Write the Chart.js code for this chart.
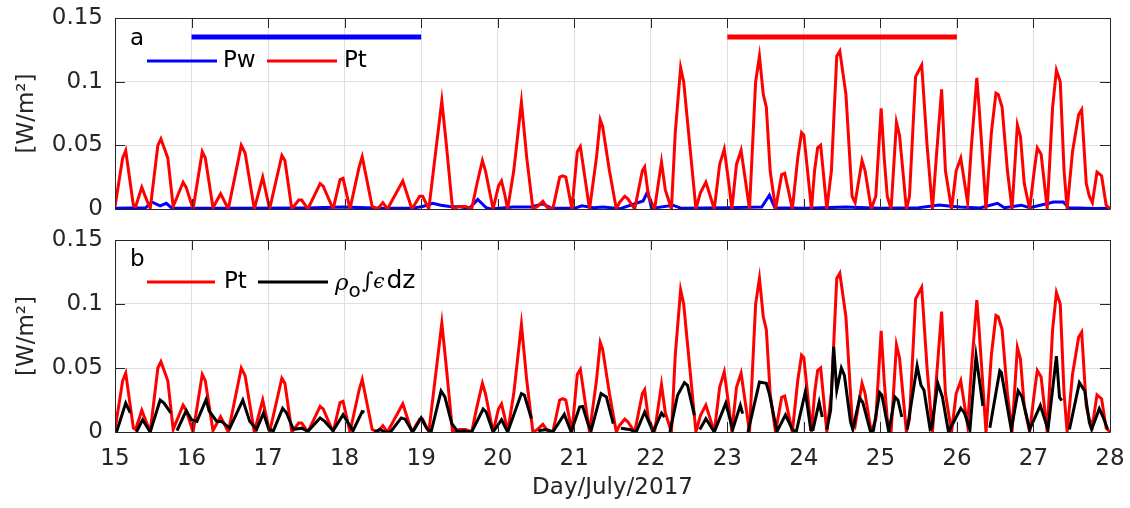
<!DOCTYPE html>
<html>
<head>
<meta charset="utf-8">
<script src="https://cdn.jsdelivr.net/npm/chart.js@4.4.0/dist/chart.umd.min.js"></script>
<style>
body { margin: 0; background: #fff; }
#wrap { position: relative; width: 1130px; height: 508px; }
canvas { position: absolute; left: 0; }
#panelA { top: 0; }
#panelB { top: 220px; }
</style>
</head>
<body>
<div id="wrap">
<canvas id="panelA" width="1130" height="220"></canvas>
<canvas id="panelB" width="1130" height="288"></canvas>
</div>
<script>
// Pt (red): day, W/m^2
const ptDay = [15.00,15.10,15.14,15.24,15.27,15.35,15.46,15.56,15.60,15.69,15.76,15.89,15.93,16.02,16.14,16.18,16.28,16.38,16.48,16.65,16.70,16.82,16.93,17.02,17.18,17.22,17.31,17.40,17.44,17.52,17.68,17.72,17.85,17.94,17.98,18.07,18.19,18.23,18.36,18.43,18.50,18.56,18.76,18.88,18.98,19.02,19.10,19.16,19.27,19.33,19.41,19.50,19.58,19.66,19.73,19.80,19.84,19.94,20.01,20.05,20.09,20.13,20.21,20.31,20.38,20.46,20.52,20.59,20.65,20.72,20.81,20.85,20.89,20.97,21.04,21.08,21.20,21.29,21.34,21.37,21.46,21.55,21.59,21.66,21.70,21.79,21.89,21.92,21.97,22.05,22.14,22.19,22.27,22.32,22.39,22.43,22.51,22.59,22.65,22.72,22.83,22.90,22.96,23.02,23.06,23.12,23.18,23.29,23.37,23.42,23.47,23.51,23.56,23.63,23.71,23.75,23.85,23.92,23.97,24.00,24.10,24.14,24.18,24.22,24.30,24.36,24.43,24.47,24.55,24.60,24.63,24.67,24.76,24.80,24.88,24.94,25.01,25.05,25.09,25.14,25.21,25.25,25.34,25.38,25.46,25.54,25.61,25.68,25.73,25.80,25.85,25.93,25.99,26.05,26.14,26.19,26.26,26.29,26.38,26.45,26.51,26.54,26.59,26.66,26.72,26.79,26.83,26.88,26.95,27.01,27.05,27.10,27.18,27.25,27.30,27.35,27.40,27.44,27.51,27.59,27.63,27.69,27.73,27.77,27.83,27.89,27.95,28.00];
const ptVal = [0.002,0.040,0.046,0.003,0.002,0.017,0.000,0.050,0.055,0.040,0.002,0.021,0.017,0.000,0.045,0.040,0.001,0.012,0.000,0.050,0.044,0.000,0.025,0.000,0.042,0.038,0.000,0.007,0.007,0.000,0.020,0.018,0.000,0.023,0.024,0.000,0.033,0.041,0.002,0.000,0.005,0.000,0.022,0.000,0.010,0.010,0.000,0.030,0.085,0.050,0.000,0.002,0.002,0.000,0.020,0.038,0.030,0.000,0.018,0.022,0.012,0.000,0.030,0.084,0.040,0.000,0.002,0.006,0.001,0.000,0.025,0.026,0.025,0.000,0.045,0.049,0.000,0.040,0.070,0.065,0.030,0.000,0.005,0.010,0.008,0.000,0.030,0.033,0.010,0.000,0.037,0.015,0.000,0.060,0.111,0.100,0.050,0.000,0.013,0.021,0.000,0.035,0.047,0.020,0.000,0.035,0.046,0.000,0.100,0.120,0.090,0.080,0.030,0.000,0.027,0.028,0.000,0.040,0.060,0.058,0.000,0.030,0.048,0.050,0.000,0.030,0.120,0.124,0.090,0.040,0.010,0.005,0.038,0.030,0.000,0.010,0.079,0.040,0.010,0.000,0.068,0.058,0.000,0.010,0.104,0.113,0.050,0.000,0.040,0.094,0.030,0.000,0.030,0.040,0.005,0.050,0.103,0.080,0.000,0.060,0.091,0.090,0.080,0.030,0.000,0.066,0.057,0.020,0.000,0.030,0.048,0.043,0.000,0.080,0.109,0.100,0.030,0.000,0.045,0.074,0.078,0.020,0.010,0.005,0.029,0.026,0.003,0.000];

// Pw (blue)
const pwDay = [15.00,15.40,15.48,15.59,15.67,15.74,16.50,17.50,17.98,18.50,18.90,19.02,19.15,19.26,19.37,19.50,19.63,19.74,19.85,19.91,20.20,20.44,20.59,20.70,21.00,21.10,21.25,21.38,21.60,21.90,21.96,22.01,22.29,22.40,23.00,23.45,23.55,23.62,24.00,24.55,25.00,25.50,25.77,25.95,26.04,26.30,26.53,26.62,26.84,26.95,27.20,27.26,27.39,27.46,27.80,28.00];
const pwVal = [0.0005,0.001,0.0055,0.0025,0.0045,0.0008,0.0005,0.0008,0.0015,0.0005,0.0008,0.002,0.0045,0.003,0.002,0.0018,0.0005,0.0075,0.001,0.000,0.0015,0.0016,0.004,0.0008,0.0005,0.0025,0.001,0.0016,0.0003,0.0063,0.0138,0.0005,0.003,0.0005,0.001,0.0016,0.0108,0.001,0.0005,0.0015,0.0005,0.001,0.0032,0.002,0.0015,0.0008,0.0045,0.001,0.003,0.001,0.0045,0.0055,0.0055,0.001,0.0003,0.0005];

// rho_o * integral(eps) dz (black), null = gap in the record
const epsDay = [15.02,15.14,15.20,15.23,15.28,15.36,15.46,15.59,15.64,15.73,15.76,15.81,15.93,16.00,16.07,16.19,16.23,16.33,16.39,16.50,16.67,16.76,16.85,16.94,17.01,17.07,17.19,17.24,17.33,17.44,17.52,17.68,17.74,17.85,17.98,18.11,18.23,18.26,18.30,18.39,18.46,18.53,18.60,18.74,18.79,18.89,19.00,19.07,19.13,19.26,19.31,19.40,19.48,19.55,19.66,19.81,19.85,19.94,20.05,20.13,20.31,20.35,20.44,20.48,20.53,20.64,20.72,20.87,20.96,21.07,21.11,21.18,21.22,21.35,21.42,21.51,21.55,21.61,21.72,21.81,21.92,22.03,22.14,22.18,22.21,22.25,22.35,22.44,22.48,22.57,22.60,22.64,22.72,22.83,22.98,23.07,23.17,23.20,23.23,23.27,23.42,23.51,23.55,23.62,23.65,23.76,23.85,23.90,24.02,24.09,24.12,24.20,24.24,24.27,24.30,24.35,24.39,24.43,24.49,24.53,24.61,24.64,24.73,24.77,24.87,24.91,24.99,25.02,25.11,25.19,25.23,25.28,25.31,25.35,25.48,25.53,25.57,25.65,25.67,25.75,25.81,25.89,26.05,26.10,26.17,26.25,26.34,26.38,26.43,26.56,26.58,26.71,26.80,26.85,26.95,27.09,27.19,27.30,27.34,27.37,27.42,27.47,27.60,27.67,27.73,27.76,27.86,27.91,27.97];
const epsVal = [0.000,0.0226,0.015,null,0.000,0.0096,0.000,0.025,0.0226,0.015,null,0.001,0.0166,0.0096,0.0083,0.0253,0.0164,0.0083,0.0083,0.003,0.025,0.0083,0.002,0.0148,0.002,0.001,0.0185,0.015,0.002,0.003,0.0005,0.011,0.0083,0.001,0.0136,0.001,0.016,0.0155,null,0.000,0.002,0.000,0.000,0.011,0.010,0.000,0.011,0.003,0.000,0.032,0.0274,0.0066,0.000,0.001,0.000,0.018,0.0156,0.000,0.0096,0.000,0.030,0.0287,0.0105,null,0.001,0.002,0.000,0.0138,0.000,0.0195,0.020,0.0065,0.001,0.030,0.0274,0.0065,null,0.003,0.002,0.000,0.0156,0.000,0.0148,0.0117,null,0.000,0.0287,0.0386,0.0365,0.013,null,0.002,0.0104,0.000,0.0226,0.002,0.0208,0.0143,null,0.000,0.039,0.038,0.0296,0.0088,0.0005,0.0134,0.002,0.000,0.0314,0.002,0.002,0.0232,0.0117,null,0.002,0.017,0.0666,0.0327,0.050,0.0443,0.0079,0.002,0.0266,0.0232,0.0005,0.0013,0.0307,0.0287,0.000,0.0274,0.0248,0.0117,null,0.002,0.0516,0.0365,0.0326,0.002,0.003,0.038,0.0274,0.000,0.0186,0.0147,0.002,0.0593,0.0203,null,0.0034,0.0478,0.0465,0.002,0.0322,0.0275,0.002,0.0207,0.002,0.0593,0.027,0.0245,null,0.002,0.0386,0.0321,0.0074,0.002,0.0182,0.0117,0.002];

// horizontal bars at the top of panel a
const pwBarDays = [16, 19];
const ptBarDays = [23, 26];
const barLevel = 0.135;

const xTicks = [15,16,17,18,19,20,21,22,23,24,25,26,27,28];
const yTicks = [0, 0.05, 0.1, 0.15];

const axisColor = '#262626';
const gridColor = '#dfdfdf';
const fontFamily = '"DejaVu Sans", sans-serif';

function pts(days, vals) {
	return days.map((d, i) => ({ x: d, y: vals[i] }));
}

function lineSet(label, data, color, width) {
	return {
		label: label,
		data: data,
		borderColor: color,
		backgroundColor: color,
		borderWidth: width,
		pointRadius: 0,
		tension: 0,
		spanGaps: false,
	};
}

// box around the axes, ticks pointing inwards, panel letter and legend
const boxPlugin = {
	id: 'box',
	afterDraw(chart, args, opts) {
		const ctx = chart.ctx;
		const a = chart.chartArea;
		const x = chart.scales.x;
		const y = chart.scales.y;
		ctx.save();
		ctx.strokeStyle = axisColor;
		ctx.lineWidth = 1;
		ctx.beginPath();
		ctx.rect(Math.round(a.left) + 0.5, Math.round(a.top) + 0.5, Math.round(a.right - a.left), Math.round(a.bottom - a.top));
		xTicks.forEach((v) => {
			const px = Math.round(x.getPixelForValue(v)) + 0.5;
			ctx.moveTo(px, a.bottom);
			ctx.lineTo(px, a.bottom - 10);
			ctx.moveTo(px, a.top);
			ctx.lineTo(px, a.top + 10);
		});
		yTicks.forEach((v) => {
			const py = Math.round(y.getPixelForValue(v)) + 0.5;
			ctx.moveTo(a.left, py);
			ctx.lineTo(a.left + 10, py);
			ctx.moveTo(a.right, py);
			ctx.lineTo(a.right - 10, py);
		});
		ctx.stroke();

		ctx.fillStyle = '#000';
		ctx.textBaseline = 'middle';
		ctx.textAlign = 'left';
		ctx.font = '23px ' + fontFamily;
		ctx.fillText(opts.letter, 130, opts.letterY);

		opts.items.forEach((it) => {
			ctx.strokeStyle = it.color;
			ctx.lineWidth = 3;
			ctx.beginPath();
			ctx.moveTo(it.x0, opts.legendY);
			ctx.lineTo(it.x1, opts.legendY);
			ctx.stroke();
			ctx.fillStyle = '#000';
			if (it.rho) {
				let tx = it.tx;
				ctx.font = 'italic 23px "DejaVu Serif", serif';
				ctx.fillText('ρ', tx, opts.legendY + 2);
				tx += ctx.measureText('ρ').width;
				ctx.font = '20px ' + fontFamily;
				ctx.fillText('o', tx, opts.legendY + 10);
				tx += ctx.measureText('o').width + 1;
				ctx.font = '22px "DejaVu Serif", serif';
				ctx.fillText('∫', tx, opts.legendY);
				tx += ctx.measureText('∫').width;
				ctx.font = 'italic 20px "DejaVu Serif", serif';
				ctx.fillText('ϵ', tx, opts.legendY + 1);
				tx += ctx.measureText('ϵ').width + 2;
				ctx.font = '25px ' + fontFamily;
				ctx.fillText('dz', tx, opts.legendY - 1);
			} else {
				ctx.font = '23px ' + fontFamily;
				ctx.fillText(it.text, it.tx, opts.legendY);
			}
		});
		ctx.restore();
	},
};

function makeOptions(showX, topPad, xHeight, boxOpts) {
	return {
		responsive: false,
		animation: false,
		devicePixelRatio: 1,
		layout: { padding: { left: 0, right: 20, top: topPad, bottom: 0 } },
		plugins: {
			legend: { display: false },
			tooltip: { enabled: false },
			box: boxOpts,
		},
		scales: {
			x: {
				type: 'linear',
				min: 15,
				max: 28,
				afterBuildTicks: (s) => { s.ticks = xTicks.map((v) => ({ value: v })); },
				afterFit: (s) => {
					s.height = xHeight;
					s.paddingLeft = 0;
					s.paddingRight = 0;
				},
				grid: { color: gridColor, drawTicks: false },
				border: { display: false },
				ticks: {
					display: showX,
					padding: 13,
					color: axisColor,
					font: { family: fontFamily, size: 23 },
					maxRotation: 0,
				},
				title: {
					display: showX,
					text: 'Day/July/2017',
					color: axisColor,
					font: { family: fontFamily, size: 23, lineHeight: 1.2 },
					padding: { top: 0, bottom: 6 },
				},
			},
			y: {
				min: 0,
				max: 0.15,
				afterBuildTicks: (s) => { s.ticks = yTicks.map((v) => ({ value: v })); },
				afterFit: (s) => {
					s.width = 115;
					s.paddingTop = 0;
					s.paddingBottom = 0;
				},
				grid: { color: gridColor, drawTicks: false },
				border: { display: false },
				ticks: {
					padding: 12,
					color: axisColor,
					font: { family: fontFamily, size: 23 },
					callback: (v) => String(+v.toFixed(2)),
				},
				title: {
					display: true,
					text: '[W/m²]',
					color: axisColor,
					font: { family: fontFamily, size: 23, lineHeight: 1.2 },
					padding: { top: 13, bottom: 0 },
				},
			},
		},
	};
}

const chartA = new Chart(document.getElementById('panelA'), {
	type: 'line',
	data: {
		datasets: [
			lineSet('Pt', pts(ptDay, ptVal), '#ff0000', 3),
			lineSet('Pw', pts(pwDay, pwVal), '#0000ff', 3),
			lineSet('Pw period', pwBarDays.map((d) => ({ x: d, y: barLevel })), '#0000ff', 5),
			lineSet('Pt period', ptBarDays.map((d) => ({ x: d, y: barLevel })), '#ff0000', 5),
		],
	},
	options: makeOptions(false, 18, 11, {
		letter: 'a',
		letterY: 39,
		legendY: 61,
		items: [
			{ color: '#0000ff', x0: 147, x1: 217, tx: 223, text: 'Pw' },
			{ color: '#ff0000', x0: 267, x1: 337, tx: 344, text: 'Pt' },
		],
	}),
	plugins: [boxPlugin],
});

const chartB = new Chart(document.getElementById('panelB'), {
	type: 'line',
	data: {
		datasets: [
			lineSet('ρo∫ϵdz', pts(epsDay, epsVal), '#000000', 3),
			lineSet('Pt', pts(ptDay, ptVal), '#ff0000', 3),
		],
	},
	options: makeOptions(true, 20, 76, {
		letter: 'b',
		letterY: 40,
		legendY: 62,
		items: [
			{ color: '#ff0000', x0: 147, x1: 215, tx: 224, text: 'Pt' },
			{ color: '#000000', x0: 258, x1: 328, tx: 335, rho: true },
		],
	}),
	plugins: [boxPlugin],
});
</script>
</body>
</html>
